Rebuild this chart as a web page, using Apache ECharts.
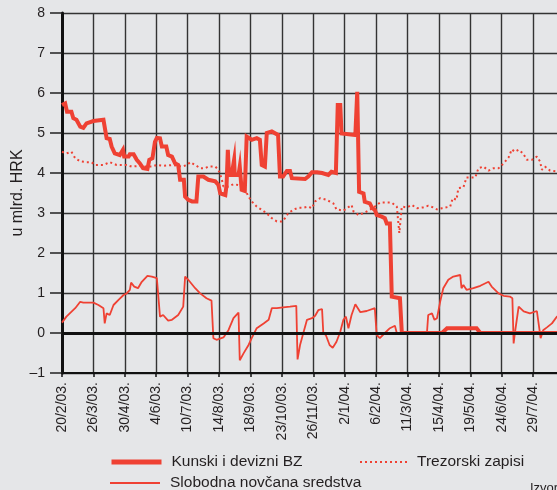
<!DOCTYPE html>
<html>
<head>
<meta charset="utf-8">
<script src="https://cdn.jsdelivr.net/npm/echarts@6/dist/echarts.min.js"></script>
<style>
  html, body { margin: 0; padding: 0; background: #e5e6e8; }
  #chart { width: 557px; height: 490px; }
</style>
</head>
<body>
<div id="chart"></div>
<script>
// x = weeks since 20/2/03, one axis tick every 5 weeks
const tickLabels = ['20/2/03.', '26/3/03.', '30/4/03.', '4/6/03.', '10/7/03.', '14/8/03.', '18/9/03.',
  '23/10/03.', '26/11/03.', '2/1/04.', '6/2/04.', '11/3/04.', '15/4/04.', '19/5/04.', '24/6/04.', '29/7/04.'];

// Kunski i devizni BZ
const bzPoints = [
  [0, 5.70], [0.5, 5.74], [0.8, 5.53], [1.5, 5.53], [1.8, 5.37], [2.3, 5.33], [2.9, 5.16], [3.4, 5.13],
  [3.9, 5.24], [5.0, 5.30], [6.6, 5.33], [6.8, 5.33], [7.1, 4.87], [7.6, 4.85], [7.9, 4.66], [8.4, 4.49],
  [9.2, 4.45], [9.7, 4.58], [9.9, 4.41], [10.6, 4.41], [10.8, 4.47], [11.4, 4.47], [11.9, 4.33], [12.4, 4.24],
  [12.9, 4.12], [13.6, 4.10], [13.9, 4.33], [14.4, 4.37], [14.8, 4.78], [15.1, 4.88], [15.6, 4.87], [15.9, 4.66],
  [16.6, 4.66], [16.9, 4.45], [17.5, 4.41], [18.0, 4.24], [18.5, 4.20], [18.8, 3.83], [19.4, 3.83], [19.6, 3.41],
  [20.1, 3.33], [20.7, 3.29], [21.4, 3.29], [21.7, 3.91], [22.5, 3.91], [23.3, 3.83], [24.4, 3.79], [24.9, 3.70],
  [25.2, 3.49], [26.0, 3.45], [26.2, 3.70], [26.4, 4.58], [26.6, 3.95], [27.0, 3.95], [27.4, 4.33], [27.5, 3.95],
  [28.1, 3.95], [28.3, 4.16], [28.6, 3.58], [29.1, 3.55], [29.4, 4.91], [30.2, 4.83], [31.0, 4.87], [31.5, 4.83],
  [31.8, 4.20], [32.3, 4.16], [32.6, 5.00], [33.4, 5.04], [34.4, 4.95], [34.7, 3.91], [35.2, 3.91], [35.8, 4.05],
  [36.3, 4.05], [36.6, 3.87], [38.7, 3.85], [39.2, 3.91], [39.8, 4.02], [40.6, 4.02], [41.4, 4.00], [42.4, 3.95],
  [42.9, 4.03], [43.6, 4.00], [43.9, 5.70], [44.3, 5.70], [44.5, 4.99], [46.7, 4.95], [47.0, 6.03], [47.3, 3.53],
  [48.0, 3.49], [48.2, 3.28], [49.0, 3.24], [49.4, 3.12], [49.8, 3.08], [50.1, 2.95], [50.9, 2.91], [51.4, 2.87],
  [51.7, 2.74], [52.2, 2.74], [52.5, 0.91], [53.8, 0.87], [54.1, 0], [60.5, 0], [61.3, 0.12], [66.0, 0.12],
  [66.6, 0], [80, 0]
];

// Trezorski zapisi
const tzPoints = [
  [0, 4.53], [0.7, 4.49], [1.5, 4.53], [2.1, 4.37], [2.9, 4.29], [3.9, 4.27], [4.7, 4.27], [5.3, 4.20],
  [6.6, 4.20], [7.6, 4.27], [8.7, 4.20], [10.3, 4.20], [11.1, 4.16], [12.4, 4.18], [13.2, 4.16], [14.3, 4.16],
  [15.1, 4.20], [16.1, 4.18], [17.7, 4.20], [19.1, 4.16], [19.9, 4.20], [20.4, 4.27], [21.2, 4.20], [22.0, 4.12],
  [22.8, 4.12], [23.3, 4.16], [24.4, 4.16], [24.9, 4.08], [25.4, 3.87], [25.7, 3.66], [26.5, 3.66], [27.3, 3.72],
  [28.1, 3.70], [28.9, 3.66], [29.7, 3.41], [30.2, 3.29], [31.0, 3.16], [31.8, 3.08], [32.6, 2.99], [33.4, 2.87],
  [34.2, 2.79], [35.0, 2.79], [35.5, 2.87], [36.0, 2.99], [36.8, 3.08], [37.6, 3.13], [38.4, 3.13], [39.2, 3.16],
  [39.8, 3.12], [40.3, 3.29], [41.1, 3.37], [42.1, 3.33], [43.2, 3.24], [43.7, 3.09], [44.8, 3.06], [46.1, 3.20],
  [46.4, 3.04], [47.2, 2.95], [48.2, 3.01], [49.0, 3.08], [49.8, 3.16], [50.6, 3.26], [52.5, 3.26], [53.3, 3.16],
  [53.7, 2.50], [54.1, 3.16], [54.9, 3.14], [55.7, 3.20], [56.5, 3.12], [57.5, 3.14], [58.3, 3.18], [59.1, 3.14],
  [59.7, 3.09], [60.5, 3.12], [61.8, 3.16], [62.2, 3.37], [62.8, 3.33], [63.1, 3.62], [63.9, 3.64], [64.4, 3.89],
  [65.8, 3.89], [66.3, 4.12], [67.1, 4.16], [67.9, 4.06], [68.7, 4.12], [69.5, 4.12], [70.3, 4.24], [71.1, 4.39],
  [71.6, 4.59], [72.1, 4.53], [72.7, 4.58], [73.4, 4.49], [74.0, 4.33], [74.8, 4.33], [75.6, 4.41], [76.1, 4.29],
  [76.4, 4.08], [76.9, 4.16], [77.7, 4.06], [80, 4.02]
];

// Slobodna novčana sredstva
const snsPoints = [
  [0, 0.26], [0.7, 0.41], [2.1, 0.62], [2.9, 0.78], [3.4, 0.76], [5.0, 0.76], [5.8, 0.70], [6.6, 0.62],
  [6.8, 0.24], [7.1, 0.49], [7.6, 0.45], [8.2, 0.70], [9.0, 0.83], [9.8, 0.95], [10.3, 0.99], [10.8, 1.08],
  [11.0, 1.26], [11.5, 1.16], [12.1, 1.12], [12.7, 1.28], [13.6, 1.43], [14.3, 1.41], [15.1, 1.37], [15.3, 1.33],
  [15.6, 0.41], [16.1, 0.45], [16.9, 0.31], [17.5, 0.33], [18.5, 0.45], [19.3, 0.66], [19.6, 1.41], [20.1, 1.33],
  [21.2, 1.12], [22.0, 0.99], [23.0, 0.87], [23.8, 0.81], [24.1, -0.13], [24.6, -0.17], [25.7, -0.11], [26.5, 0.07],
  [27.3, 0.37], [28.1, 0.51], [28.3, -0.68], [28.9, -0.51], [29.7, -0.30], [30.2, -0.13], [31.0, 0.12], [32.1, 0.24],
  [32.9, 0.33], [33.4, 0.62], [34.2, 0.62], [35.2, 0.64], [36.3, 0.66], [37.3, 0.68], [37.5, -0.66], [37.9, -0.30],
  [39.0, 0.33], [39.8, 0.37], [40.3, 0.43], [40.8, 0.57], [41.4, 0.60], [41.6, 0], [42.0, -0.05], [42.6, -0.30],
  [43.1, -0.37], [43.7, -0.22], [44.3, 0.03], [44.8, 0.33], [45.2, 0.41], [45.6, 0.12], [46.1, 0.45], [46.7, 0.72],
  [47.5, 0.52], [48.5, 0.55], [49.8, 0.62], [50.1, -0.05], [50.6, -0.13], [51.4, 0], [52.2, 0.12], [53.0, 0.18],
  [53.3, 0], [58.1, 0], [58.3, 0.45], [58.9, 0.49], [59.3, 0.33], [59.7, 0.37], [60.2, 0.78], [60.7, 1.12],
  [61.5, 1.33], [62.3, 1.41], [63.4, 1.45], [63.6, 1.12], [63.9, 1.20], [64.4, 1.08], [65.5, 1.12], [66.6, 1.18],
  [67.9, 1.28], [68.4, 1.16], [69.5, 0.99], [70.3, 0.93], [71.3, 0.91], [71.7, 0.87], [71.9, -0.26], [72.1, 0],
  [72.7, 0.66], [73.5, 0.54], [74.5, 0.49], [75.6, 0.55], [75.9, 0.52], [76.2, -0.13], [76.6, 0.07], [77.2, 0.14],
  [78.0, 0.24], [78.8, 0.41], [80, 0.55]
];

const RED = '#ef4133';
const FONT = 'Liberation Sans';

const chart = echarts.init(document.getElementById('chart'));

function legendFor(name, left, top, lineStyle, textPad) {
  return {
    left: left,
    top: top,
    data: [name],
    orient: 'horizontal',
    itemWidth: 50,
    itemHeight: 14,
    selectedMode: false,
    itemStyle: { color: 'transparent', borderWidth: 0, opacity: 0 },
    lineStyle: lineStyle,
    textStyle: { fontFamily: FONT, fontSize: 15.5, color: '#231f20', padding: [0, 0, 0, textPad] }
  };
}

chart.setOption({
  animation: false,
  backgroundColor: '#e5e6e8',
  grid: { left: 62, top: 13, bottom: 117, right: -5, outerBoundsMode: 'none', containLabel: false },
  legend: [
    legendFor('Kunski i devizni BZ', 104, 449, { color: RED, width: 5 }, 5),
    legendFor('Trezorski zapisi', 354, 449, { color: RED, width: 2, type: [2, 3] }, 2),
    legendFor('Slobodna novčana sredstva', 104, 470, { color: RED, width: 2 }, 5)
  ],
  graphic: [{
    type: 'text', left: 530, top: 482,
    style: { text: 'Izvor: HNB', fontFamily: FONT, fontSize: 13, fill: '#231f20' }
  }],
  xAxis: {
    type: 'value',
    min: 0,
    max: 79.6,
    interval: 5,
    axisLine: { show: true, onZero: false, lineStyle: { color: '#111', width: 2 } },
    axisTick: { show: true, length: 4, lineStyle: { color: '#111', width: 1.5 } },
    splitLine: { show: true, lineStyle: { color: '#333', width: 1.4 } },
    axisLabel: {
      rotate: 90,
      margin: 9,
      showMaxLabel: false,
      fontFamily: FONT,
      fontSize: 14,
      color: '#231f20',
      formatter: function (v) {
        const i = Math.round(v / 5);
        return Math.abs(v - i * 5) < 1e-6 && tickLabels[i] ? tickLabels[i] : '';
      }
    }
  },
  yAxis: {
    type: 'value',
    min: -1,
    max: 8,
    interval: 1,
    name: 'u mlrd. HRK',
    nameLocation: 'middle',
    nameGap: 36,
    nameMoveOverlap: false,
    nameRotate: 90,
    nameTextStyle: { fontFamily: FONT, fontSize: 16, color: '#231f20' },
    axisLine: { show: true, lineStyle: { color: '#111', width: 3 } },
    axisTick: { show: true, length: 12, lineStyle: { color: '#222', width: 1.5 } },
    splitLine: { show: true, lineStyle: { color: '#333', width: 1.4 } },
    axisLabel: {
      margin: 17,
      fontFamily: FONT,
      fontSize: 14,
      color: '#231f20',
      formatter: function (v) { return v < 0 ? '\u2013' + Math.abs(v) : String(v); }
    }
  },
  series: [
    {
      name: 'zero',
      type: 'line',
      data: [],
      z: 1,
      markLine: {
        silent: true,
        symbol: 'none',
        label: { show: false },
        lineStyle: { color: '#111', width: 3, type: 'solid' },
        data: [{ yAxis: 0 }]
      }
    },
    {
      name: 'Slobodna novčana sredstva',
      type: 'line',
      data: snsPoints,
      symbol: 'none',
      z: 3,
      lineStyle: { color: RED, width: 1.8 },
      itemStyle: { color: RED }
    },
    {
      name: 'Trezorski zapisi',
      type: 'line',
      data: tzPoints,
      symbol: 'none',
      z: 3,
      lineStyle: { color: RED, width: 2, type: [2, 3] },
      itemStyle: { color: RED }
    },
    {
      name: 'Kunski i devizni BZ',
      type: 'line',
      data: bzPoints,
      symbol: 'none',
      z: 4,
      lineStyle: { color: RED, width: 4, join: 'miter' },
      itemStyle: { color: RED }
    }
  ]
});
</script>
</body>
</html>
